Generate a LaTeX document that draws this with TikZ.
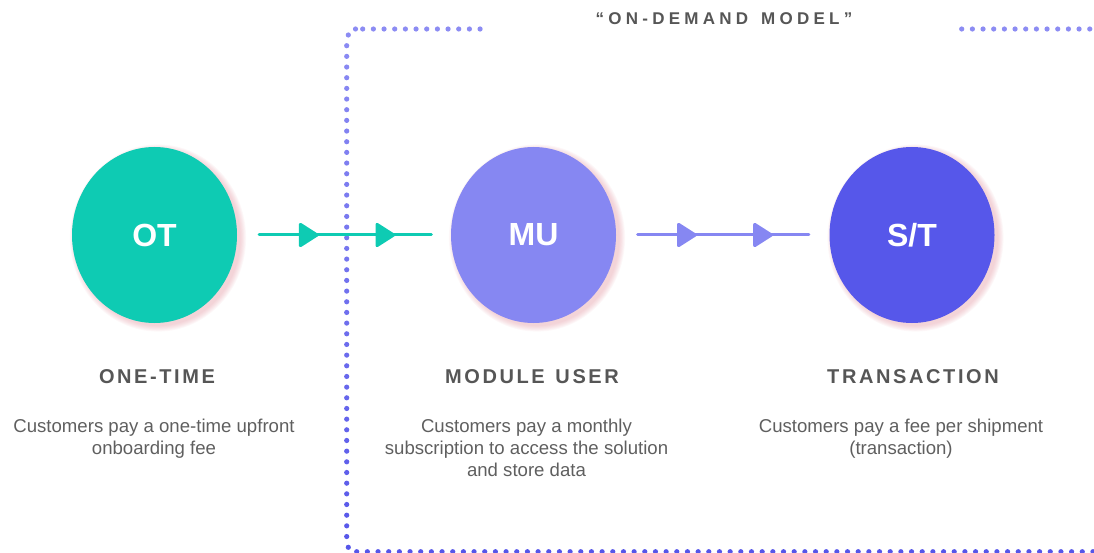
\documentclass[tikz,border=0pt]{standalone}
\usepackage{fontspec}
\setmainfont{Liberation Sans}
\newfontfamily\spacedfont[LetterSpace=13]{Liberation Sans}
\newfontfamily\titlefont[LetterSpace=25]{Liberation Sans}
\usetikzlibrary{shapes.geometric,decorations.markings,arrows.meta}

\definecolor{otcol}{HTML}{0ECBB3}
\definecolor{mucol}{HTML}{8687F2}
\definecolor{stcol}{HTML}{5657EA}
\definecolor{dotA}{HTML}{8C8CF3}
\definecolor{dotB}{HTML}{5656E9}
\definecolor{glow}{HTML}{E08E9A}
\definecolor{headgray}{HTML}{565656}
\definecolor{bodygray}{HTML}{5F5F5F}

% one dot of the dotted frame, shaded from light (top) to dark (bottom)
\newcommand\framedot[2]{%
  \pgfmathtruncatemacro\dotmix{(#2-29)/5.23}%
  \fill[dotB!\dotmix!dotA] (#1,#2) circle[radius=2.6];}

\tikzset{
  stage/.style={ellipse, minimum width=165pt, minimum height=176pt, inner sep=0pt,
    text=white, font=\fontsize{32}{32}\selectfont\bfseries},
  heading/.style={text=headgray, font=\spacedfont\fontsize{20}{24}\selectfont\bfseries,
    inner sep=0pt, anchor=base},
  % base anchor of a multi-line blurb sits on its last line
  blurb/.style={text=bodygray, font=\fontsize{18.6}{22}\selectfont, align=center,
    inner sep=0pt, anchor=base},
  flow/.style={draw=#1, line width=3pt, line cap=round, postaction={decorate},
    decoration={markings,
      mark=at position 0.345 with {\arrow{Triangle[length=21pt,width=26pt,round]}},
      mark=at position 0.79 with {\arrow{Triangle[length=21pt,width=26pt,round]}}}},
}

\begin{document}
\begin{tikzpicture}[x=1pt,y=-1pt]
\useasboundingbox (0,0) rectangle (1094,553);

% dotted frame of the on-demand group
\framedot{355.5}{29}
\framedot{348.3}{35}
\framedot{348.3}{547.3}
\foreach \i in {0,...,46} {\pgfmathsetmacro\yy{45.7+10.67*\i}\framedot{346.7}{\yy}}
\foreach \i in {0,...,11} {\pgfmathsetmacro\xx{362.7+10.67*\i}\framedot{\xx}{29}}
\foreach \i in {0,...,13} {\pgfmathsetmacro\xx{961.7+10.67*\i}\framedot{\xx}{29}}
\foreach \i in {0,...,69} {\pgfmathsetmacro\xx{356.7+10.67*\i}\framedot{\xx}{551.7}}

\node[text=headgray, font=\titlefont\fontsize{17}{20}\selectfont\bfseries, inner sep=0pt, anchor=base]
  (title) at (724,25) {“ON-DEMAND\hspace{4pt} MODEL”};

% centres of the three stages
\coordinate (cOT) at (154.5,235);
\coordinate (cMU) at (533.5,235);
\coordinate (cST) at (912,235);

% soft pink glow behind each stage
\foreach \c in {cOT,cMU,cST}
  \foreach \k in {0,...,7}
    \fill[glow, opacity=0.06] ([shift={(3.5,3)}]\c) ellipse[x radius={82.5+0.8*\k}, y radius={88+0.8*\k}];

\node[stage, fill=otcol] (ot) at (cOT) {OT};
\node[stage, fill=mucol] (mu) at (cMU) {MU};
\node[stage, fill=stcol] (st) at (cST) {S/T};

\draw[flow=otcol] ([xshift=22pt]ot.east) -- ([xshift=-19.5pt]mu.west);
\draw[flow=mucol] ([xshift=21.5pt]mu.east) -- ([xshift=-20.5pt]st.west);

\node[heading] (h1) at (157,383) {ONE-TIME};
\node[heading] (h2) at (532,383) {MODULE\hspace{2.5pt} USER};
\node[heading] (h3) at (913,383) {TRANSACTION};

\node[blurb] (d1) at (154,454) {Customers pay a one-time upfront\\onboarding fee};
\node[blurb] (d2) at (526.5,476) {Customers pay a monthly\\subscription to access the solution\\and store data};
\node[blurb] (d3) at (901,454) {Customers pay a fee per shipment\\(transaction)};
\end{tikzpicture}
\end{document}
